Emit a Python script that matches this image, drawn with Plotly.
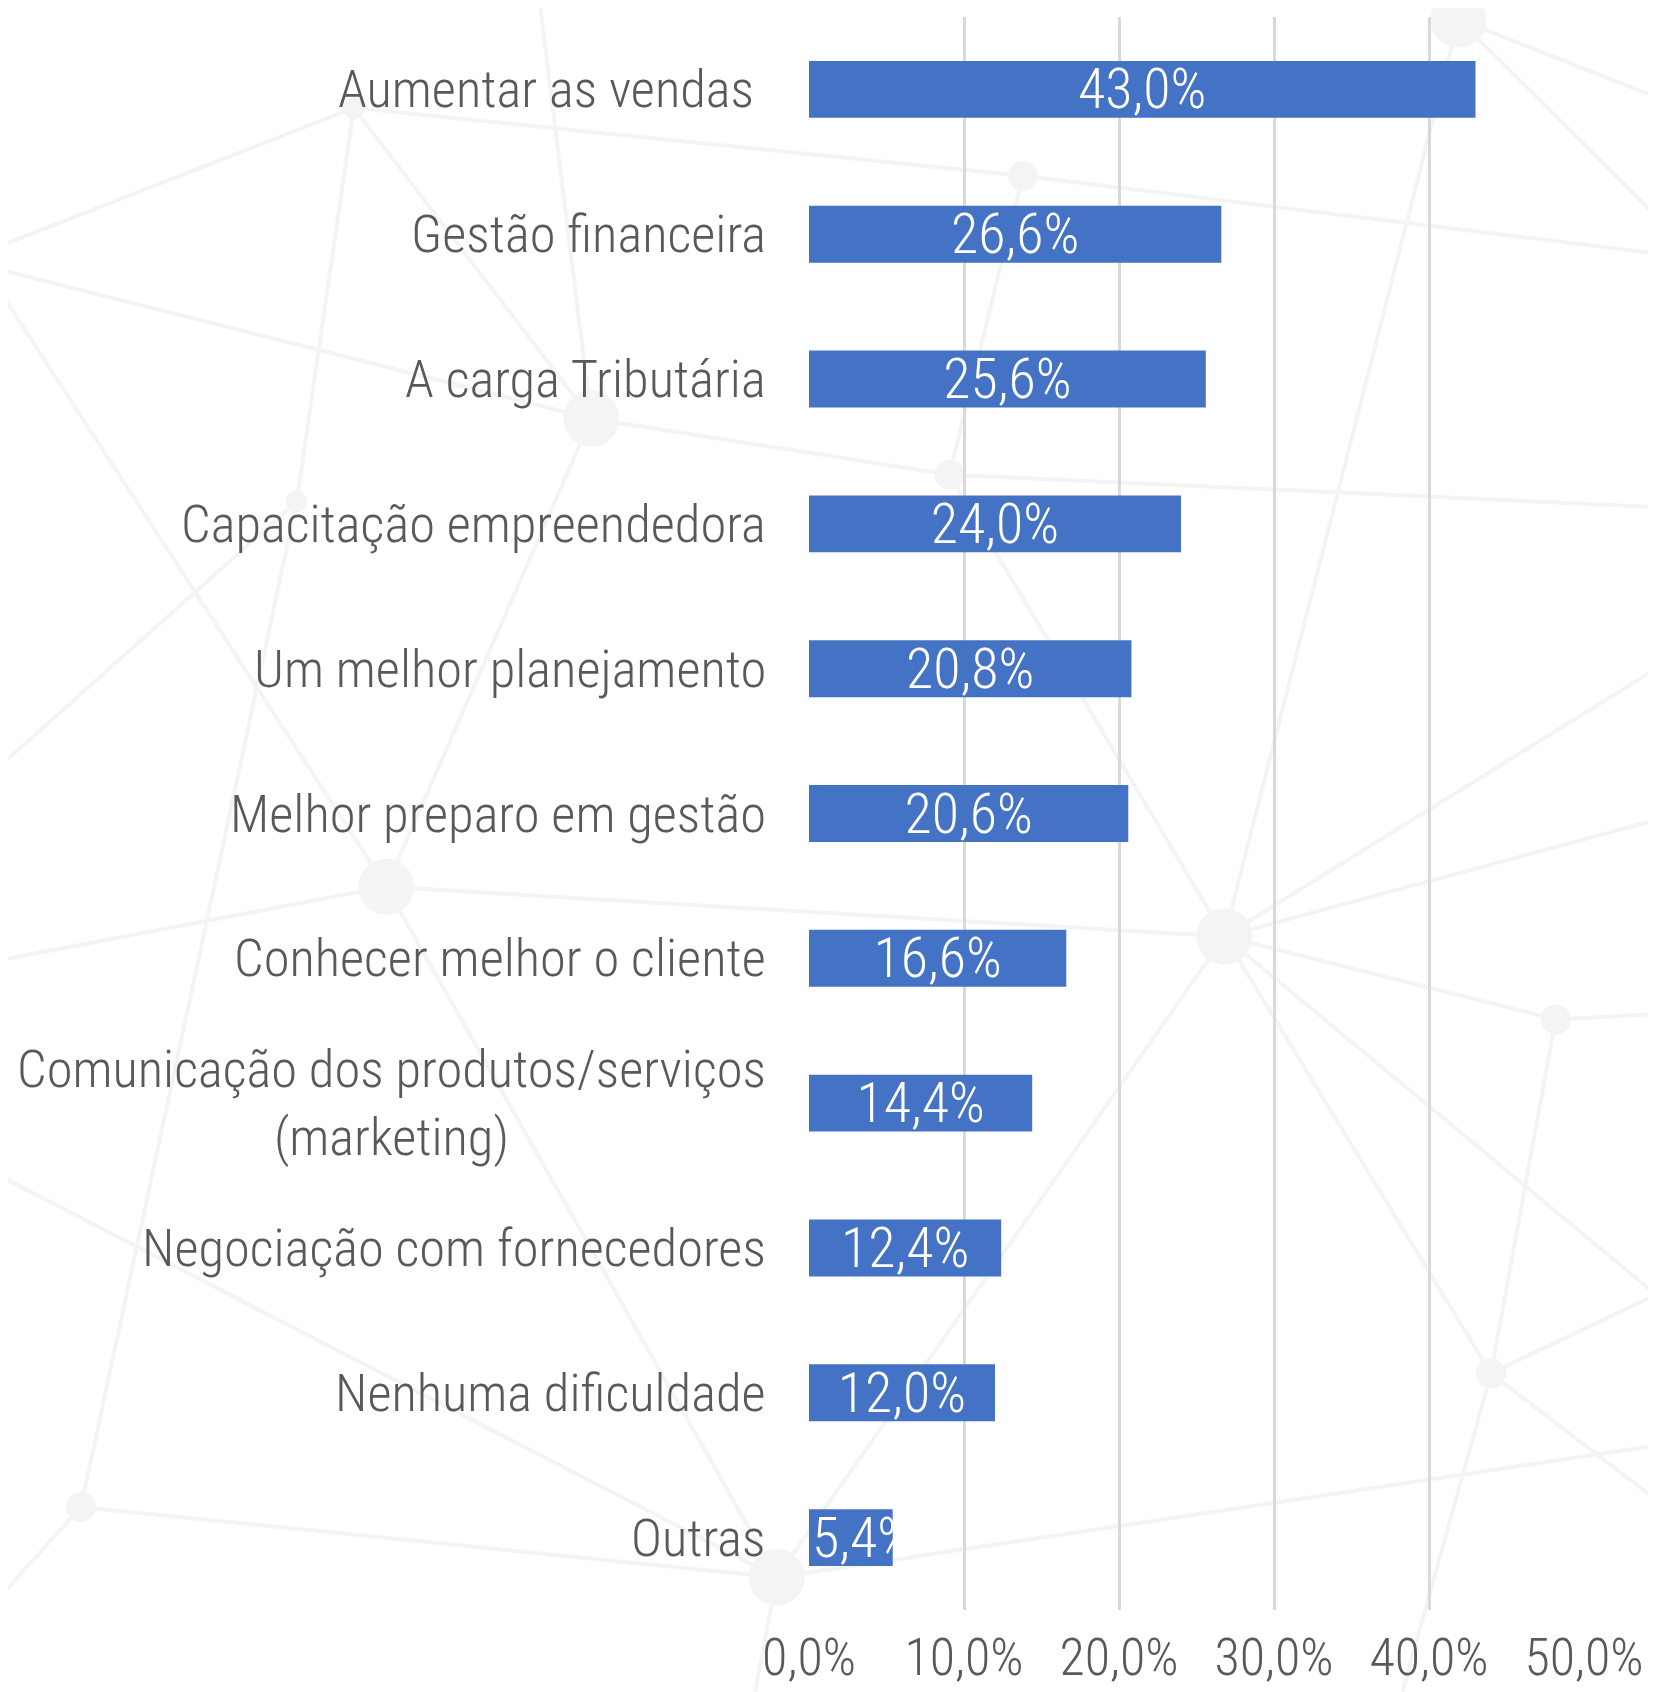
import plotly.graph_objects as go

# dados
categorias = [
    "Aumentar as vendas\u00a0",
    "Gestão financeira",
    "A carga Tributária",
    "Capacitação empreendedora",
    "Um melhor planejamento",
    "Melhor preparo em gestão",
    "Conhecer melhor o cliente",
    "Comunicação dos produtos/serviços<br>(marketing)",
    "Negociação com fornecedores",
    "Nenhuma dificuldade",
    "Outras",
]
valores = [43.0, 26.6, 25.6, 24.0, 20.8, 20.6, 16.6, 14.4, 12.4, 12.0, 5.4]
ticks_x = [0, 10, 20, 30, 40, 50]
rotulos_x = [f"{v:.1f}%".replace(".", ",") for v in ticks_x]

FONTE = "Roboto Condensed, Roboto"
TAM_CAT = 52.5
TAM_NUM = 56
TAM_EIXO = 52
CINZA = "#595959"
AZUL = "#4472C4"
# a página tem 8 px de margem no body: a figura fica em (8, 8)
W, H = 1648, 1684
ML, MR, MT, MB = 801, 72, 9, 82

fig = go.Figure()

# barras principais (rótulo centralizado)
fig.add_trace(go.Bar(
    x=valores[:-1], y=categorias[:-1], orientation="h",
    marker=dict(color=AZUL, line=dict(width=0)),
    texttemplate="%{x:.1f}%", textposition="inside",
    insidetextanchor="middle", constraintext="none",
    textfont=dict(family=FONTE, size=TAM_NUM, color="white", weight=300),
    hoverinfo="skip",
))
# "Outras": rótulo começa no início da barra e transborda (branco sobre branco)
fig.add_trace(go.Bar(
    x=valores[-1:], y=categorias[-1:], orientation="h",
    marker=dict(color=AZUL, line=dict(width=0)),
    texttemplate="%{x:.1f}%", textposition="inside",
    insidetextanchor="start", constraintext="none",
    textfont=dict(family=FONTE, size=TAM_NUM, color="white", weight=300),
    hoverinfo="skip",
))

# rótulos das categorias como anotações (segunda linha centralizada)
for cat in categorias:
    fig.add_annotation(
        x=0, xref="paper", y=cat, yref="y",
        text=cat, showarrow=False, xanchor="right", yanchor="middle",
        align="center", xshift=-41,
        font=dict(family=FONTE, size=TAM_CAT, color=CINZA, weight=300),
    )

# fundo decorativo (rede de linhas), coordenadas em pixels da imagem reduzida
S = 1656 / 1535
PW, PH = W - ML - MR, H - MT - MB


def px(X, Y):
    return (X * S - 8 - ML) / PW, (H - MB - (Y * S - 8)) / PH


linhas = [
    ((0, 228), (328, 100)), ((328, 100), (948, 163)), ((948, 163), (1535, 235)),
    ((500, 0), (548, 388)), ((328, 100), (548, 388)), ((328, 100), (275, 465)),
    ((275, 465), (0, 710)), ((0, 250), (548, 388)), ((548, 388), (880, 440)),
    ((880, 440), (1535, 470)), ((880, 440), (1135, 868)), ((948, 163), (880, 440)),
    ((1352, 18), (1535, 200)), ((1352, 18), (1135, 868)), ((1352, 18), (1535, 90)),
    ((0, 890), (358, 822)), ((358, 822), (1135, 868)), ((358, 822), (548, 388)),
    ((358, 822), (720, 1462)), ((1135, 868), (1442, 945)), ((1442, 945), (1535, 940)),
    ((1135, 868), (1382, 1273)), ((1135, 868), (1535, 760)), ((1442, 945), (1382, 1273)),
    ((1382, 1273), (1535, 1200)), ((75, 1397), (720, 1462)), ((720, 1462), (1535, 1340)),
    ((0, 1090), (720, 1462)), ((75, 1397), (275, 465)), ((720, 1462), (1135, 868)),
    ((1382, 1273), (1535, 1390)), ((75, 1397), (0, 1480)), ((1135, 868), (1535, 1200)),
    ((0, 270), (358, 822)), ((1535, 620), (1135, 868)),
    ((700, 1568), (720, 1462)), ((1382, 1273), (1300, 1568)),
]
nos = [
    (328, 100, 10), (548, 388, 26), (948, 163, 14), (880, 440, 14), (1352, 18, 26),
    (358, 822, 26), (1135, 868, 26), (1442, 945, 14), (1382, 1273, 14), (75, 1397, 14),
    (720, 1462, 26), (275, 465, 10),
]
formas = []
for (a, b) in linhas:
    x0, y0 = px(*a)
    x1, y1 = px(*b)
    formas.append(dict(type="line", xref="paper", yref="paper", x0=x0, y0=y0, x1=x1, y1=y1,
                       line=dict(color="#F4F4F4", width=4), layer="below"))
for (cx, cy, r) in nos:
    x0, y0 = px(cx - r, cy + r)
    x1, y1 = px(cx + r, cy - r)
    formas.append(dict(type="circle", xref="paper", yref="paper", x0=x0, y0=y0, x1=x1, y1=y1,
                       fillcolor="#F4F4F4", line=dict(width=0), layer="below"))

fig.update_layout(
    template="none",
    width=W, height=H,
    margin=dict(l=ML, r=MR, t=MT, b=MB),
    paper_bgcolor="white", plot_bgcolor="rgba(0,0,0,0)",
    barmode="relative", bargap=0.607,
    showlegend=False,
    separators=",.",
    font=dict(family=FONTE, color=CINZA),
    shapes=formas,
)
fig.update_xaxes(
    range=[0, 50], tickvals=ticks_x, ticktext=rotulos_x,
    showgrid=True, gridcolor="#D9D9D9", gridwidth=2.5,
    zeroline=False, showline=False, ticks="", automargin=False,
    ticklabelstandoff=12,
    tickfont=dict(family=FONTE, size=TAM_EIXO, color=CINZA, weight=300),
)
fig.update_yaxes(
    categoryorder="array", categoryarray=categorias, autorange="reversed",
    showticklabels=False, showgrid=False, zeroline=False, showline=False, ticks="",
    automargin=False,
)

fig.write_html("out.html")
